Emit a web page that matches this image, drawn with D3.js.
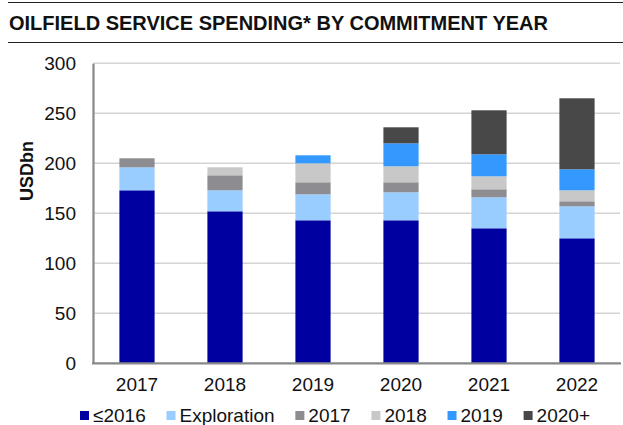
<!DOCTYPE html>
<html>
<head>
<meta charset="utf-8">
<script src="https://cdn.jsdelivr.net/npm/d3@7"></script>
<style>
  html, body { margin: 0; padding: 0; background: #fff; }
  svg { display: block; font-family: "Liberation Sans", Arial, sans-serif; }
</style>
</head>
<body>
<svg id="chart" width="623" height="425"></svg>
<script>
// Commitment years on the x axis
const years = ["2017", "2018", "2019", "2020", "2021", "2022"];

// Stack components (USD bn), bottom to top
const seriesNames = ["≤2016", "Exploration", "2017", "2018", "2019", "2020+"];
const upTo2016    = [173, 152, 143, 143, 135, 125];
const exploration = [23, 21, 26, 28, 31, 32];
const from2017    = [9, 15, 12, 10, 8, 5];
const from2018    = [0, 8, 19, 16, 13, 11];
const from2019    = [0, 0, 8, 23, 22, 21];
const from2020on  = [0, 0, 0, 16, 44, 71];

const yTicks = [0, 50, 100, 150, 200, 250, 300];
const colors = ["#0000a0", "#99ccff", "#8c8c91", "#c8c8c8", "#3399ff", "#484848"];

const seriesValues = [upTo2016, exploration, from2017, from2018, from2019, from2020on];
const rows = years.map((yr, i) => {
  const r = { year: yr };
  seriesNames.forEach((s, k) => { r[s] = seriesValues[k][i]; });
  return r;
});

const svg = d3.select("#chart");
const plot = { left: 93, right: 621, top: 63.3, bottom: 363.3 };

const x = d3.scaleBand().domain(years).range([plot.left, plot.right])
  .paddingInner(0.6).paddingOuter(0.3);
const y = d3.scaleLinear().domain([0, 300]).range([plot.bottom, plot.top]);

// Header rules and title
svg.append("line").attr("x1", 8).attr("x2", 623).attr("y1", 2.5).attr("y2", 2.5)
  .attr("stroke", "#222").attr("stroke-width", 1.2);
svg.append("line").attr("x1", 8).attr("x2", 623).attr("y1", 42.5).attr("y2", 42.5)
  .attr("stroke", "#222").attr("stroke-width", 1.2);
svg.append("text").attr("x", 9).attr("y", 30)
  .attr("font-size", 20).attr("font-weight", "bold").attr("fill", "#111")
  .text("OILFIELD SERVICE SPENDING* BY COMMITMENT YEAR");

// Horizontal gridlines
svg.append("g").selectAll("line").data(yTicks.filter(t => t > 0)).join("line")
  .attr("x1", plot.left).attr("x2", plot.right - 1)
  .attr("y1", d => y(d)).attr("y2", d => y(d))
  .attr("stroke", "#d4d4d4").attr("stroke-width", 1.5);

// Stacked bars
const stacked = d3.stack().keys(seriesNames)(rows);
svg.append("g").selectAll("g").data(stacked).join("g")
  .attr("fill", (d, i) => colors[i])
  .selectAll("rect").data(d => d).join("rect")
  .attr("x", d => x(d.data.year))
  .attr("width", x.bandwidth())
  .attr("y", d => y(d[1]))
  .attr("height", d => Math.max(0, y(d[0]) - y(d[1])));

// Y axis
const yAxis = svg.append("g").attr("transform", `translate(${plot.left},0)`)
  .call(d3.axisLeft(y).tickValues(yTicks).tickSize(0).tickPadding(17));
yAxis.select(".domain").attr("stroke", "#888").attr("stroke-width", 2.2);
yAxis.selectAll("text").attr("font-size", 19).attr("fill", "#111")
  .attr("font-family", "'Liberation Sans', Arial, sans-serif");

// X axis
const xAxis = svg.append("g").attr("transform", `translate(0,${plot.bottom})`)
  .call(d3.axisBottom(x).tickSize(0).tickPadding(14));
xAxis.select(".domain").attr("stroke", "#888").attr("stroke-width", 2.2)
  .attr("d", `M${plot.left - 1},0H${plot.right}`);
xAxis.selectAll("text").attr("font-size", 19).attr("fill", "#111")
  .attr("font-family", "'Liberation Sans', Arial, sans-serif");

// Y axis title
svg.append("text")
  .attr("transform", "translate(33,171) rotate(-90)")
  .attr("text-anchor", "middle")
  .attr("font-size", 18).attr("font-weight", "bold").attr("fill", "#111")
  .text("USDbn");

// Legend
const legend = svg.append("g");
let lx = 80;
seriesNames.forEach((name, i) => {
  const g = legend.append("g").attr("transform", `translate(${lx},0)`);
  g.append("rect").attr("x", 0).attr("y", 411).attr("width", 9).attr("height", 9)
    .attr("fill", colors[i]);
  const t = g.append("text").attr("x", 13).attr("y", 421.5)
    .attr("font-size", 19).attr("fill", "#111").text(name);
  lx += 13 + t.node().getComputedTextLength() + 20.8;
});
</script>
</body>
</html>
